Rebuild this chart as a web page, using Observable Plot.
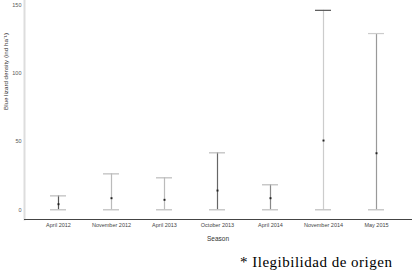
<!DOCTYPE html>
<html>
<head>
<meta charset="utf-8">
<script src="https://cdn.jsdelivr.net/npm/d3@7"></script>
<script src="https://cdn.jsdelivr.net/npm/@observablehq/plot@0.6"></script>
<style>
  html, body { margin: 0; padding: 0; background: #fff; }
  #chart { width: 412px; }
  #caption { font-family: "Liberation Serif", serif; font-size: 15px; letter-spacing: 0.5px; color: #000; margin: 6px 0 0 240px; line-height: 17px; white-space: nowrap; }
</style>
</head>
<body>
<div id="chart"></div>
<div id="caption">* Ilegibilidad de origen</div>
<script>
const seasons = ["April 2012", "November 2012", "April 2013", "October 2013", "April 2014", "November 2014", "May 2015"];
const meanDensity = [4.1, 8.5, 7.3, 14.1, 8.5, 50.7, 41.4];
const lowerCI = [0, 0, 0, 0, 0, 0, 0];
const upperCI = [10.2, 26.3, 23.4, 41.7, 18.3, 146, 129];
const yTicks = [0, 50, 100, 150];

const data = seasons.map((s, i) => ({season: s, mean: meanDensity[i], lo: lowerCI[i], hi: upperCI[i]}));

const lineColors = ["#555", "#bbb", "#bbb", "#666", "#888", "#ccc", "#999"];
const topCapColors = ["#bbb", "#bbb", "#bbb", "#bbb", "#bbb", "#555", "#ccc"];

const chart = Plot.plot({
  width: 412,
  height: 248,
  marginLeft: 24,
  marginRight: 1,
  marginTop: 0,
  marginBottom: 29,
  style: {fontFamily: "'Liberation Sans', Arial, sans-serif", fontSize: "5.5px", color: "#444", background: "#fff"},
  x: {type: "band", domain: seasons, paddingInner: 0.69, paddingOuter: 0.44, label: null},
  y: {domain: [-7.1, 153.2], ticks: yTicks, label: null},
  color: {type: "ordinal", domain: seasons, range: lineColors},
  marks: [
    Plot.frame({anchor: "left", stroke: "#ddd", strokeWidth: 2}),
    Plot.frame({anchor: "bottom", stroke: "#444", strokeWidth: 1}),
    Plot.axisY({ticks: yTicks, tickSize: 0, tickPadding: 3, fill: "#555", label: null}),
    Plot.axisX({tickSize: 0, tickPadding: 4, fill: "#444", label: null}),
    Plot.text(["Season"], {frameAnchor: "bottom", dy: 21, fontSize: 6.5, fill: "#333"}),
    Plot.text(["Blue lizard density (ind ha⁻¹)"], {frameAnchor: "left", dx: -18, rotate: -90, fontSize: 6.2, fill: "#333"}),
    Plot.ruleX(data, {x: "season", y1: "lo", y2: "hi", stroke: "season", strokeWidth: 1.2}),
    Plot.tickY(data, {x: "season", y: "lo", stroke: "#bbb", strokeWidth: 1.2}),
    Plot.tickY(data, {x: "season", y: "hi", stroke: (d, i) => topCapColors[i], strokeWidth: 1.2}),
    Plot.dot(data, {x: "season", y: "mean", symbol: "square", r: 1.1, fill: "#222", stroke: null})
  ]
});
document.getElementById("chart").appendChild(chart);
</script>
</body>
</html>
